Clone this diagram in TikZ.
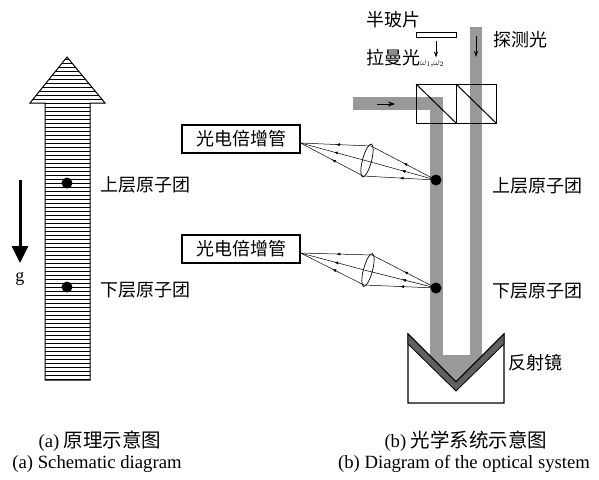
\documentclass[tikz,border=0pt]{standalone}
\usepackage{fontspec}
\setmainfont{Liberation Serif}
\newfontfamily\cjk{Noto Sans CJK SC}
\usetikzlibrary{arrows.meta,decorations.markings}
\tikzset{
  beam/.style={fill=black!40},
  lbl/.style={font=\cjk\fontsize{18}{20}\selectfont, inner sep=0pt},
  pmt/.style={draw, line width=1.1pt, minimum width=118pt, minimum height=28pt, font=\cjk\fontsize{18}{20}\selectfont},
  atom/.style={circle, fill=black, inner sep=0pt, minimum size=11pt},
  captext/.style={font=\fontsize{18.7}{21}\selectfont, inner sep=0pt},
  ray/.style={line width=0.5pt, postaction={decorate}, decoration={markings, mark=at position .5 with {\arrow{Latex[length=4pt,width=3pt]}}}}
}
\begin{document}
\begin{tikzpicture}[x=1pt,y=-1pt]
\useasboundingbox (0,0) rectangle (599,479);

%(a) striped arrow with the two clouds
\begin{scope}
  \clip (30,103) -- (67,57) -- (105,103) -- (90,103) -- (90,380) -- (45,380) -- (45,103) -- cycle;
  \foreach \y in {59,63,...,379} \draw[line width=0.7pt] (25,\y) -- (110,\y);
\end{scope}
\draw[line width=1pt] (45,103) -- (30,103) -- (67,57) -- (105,103) -- (90,103) -- (90,380) -- (45,380) -- cycle;
\node[atom] (upA) at (67,183) {};
\node[atom] (lowA) at (67,287) {};
\node[lbl, anchor=west] (upAl) at (100,185) {上层原子团};
\node[lbl, anchor=west] (lowAl) at (100,290) {下层原子团};
\coordinate (gtop) at (20,180);
\coordinate (gtip) at (20,263);
\draw[line width=3pt, -{Triangle[length=17pt,width=16pt]}] (gtop) -- (gtip);
\node[font=\fontsize{18}{20}\selectfont] (g) at (20,279) {g};

%(b) beams first, everything else on top
\fill[beam] (470,27) rectangle (482,395);
\fill[beam] (353,97) rectangle (443,110);
\fill[beam] (430,97) rectangle (443,395);
\fill[beam] (430,355) rectangle (482,395);

%mirror
\filldraw[fill=white, line width=1.1pt] (408,334) -- (456,382) -- (504,334) -- (504,403) -- (408,403) -- cycle;
\filldraw[fill=black!62, line width=0.8pt] (408,334) -- (456,382) -- (504,334) -- (504,344) -- (456,391) -- (408,344) -- cycle;
\node[lbl, anchor=west] (mirrorl) at (508,363) {反射镜};

%beam splitters
\draw[line width=1pt] (416,84) rectangle (496,123);
\draw[line width=1pt] (456,84) -- (456,123);
\draw[line width=1pt] (416,84) -- (456,123);
\draw[line width=1pt] (456,84) -- (496,123);
\draw[line width=1pt, -{Stealth[length=7pt,width=5pt]}] (377,104) -- (395,104);

%half wave plate and inputs
\node[draw, line width=1pt, minimum width=40pt, minimum height=5pt, inner sep=0pt] (plate) at (436,34.5) {};
\draw[line width=0.8pt, -{Stealth[length=6pt,width=4pt]}] ([yshift=-3pt]plate.south) -- ++(0,17);
\draw[line width=0.8pt, -{Stealth[length=6pt,width=4pt]}] (476,36) -- (476,57);
\node[lbl] (platel) at (393,20) {半玻片};
\node[lbl] (raman) at (393,58) {拉曼光};
\node[font=\fontsize{10}{11}\selectfont, anchor=west, inner sep=0pt] (omega) at (420,64) {$\omega_1$,$\omega_2$};
\node[lbl, anchor=west] (probe) at (493,40) {探测光};

%upper detection
\node[pmt] (pmtA) at (241,139) {光电倍增管};
\node[atom] (upB) at (436,180) {};
\draw[line width=0.7pt, rotate around={-15:(367,160.5)}] (367,160.5) ellipse [x radius=4.5, y radius=17];
\coordinate (lA1) at (371,146);
\coordinate (lA2) at (367,161);
\coordinate (lA3) at (363,176);
\draw[ray] (upB.center) -- (lA1);
\draw[ray] (upB.center) -- (lA2);
\draw[ray] (upB.center) -- (lA3);
\draw[ray] (lA1) -- ([yshift=-4pt]pmtA.east);
\draw[ray] (lA2) -- ([yshift=-4pt]pmtA.east);
\draw[ray] (lA3) -- ([yshift=-4pt]pmtA.east);
\node[lbl, anchor=west] (upBl) at (492,186) {上层原子团};

%lower detection
\node[pmt] (pmtB) at (241,249) {光电倍增管};
\node[atom] (lowB) at (436,288) {};
\draw[line width=0.7pt, rotate around={-15:(368,270)}] (368,270) ellipse [x radius=4.5, y radius=17];
\coordinate (lB1) at (372,255);
\coordinate (lB2) at (368,271);
\coordinate (lB3) at (364,285);
\draw[ray] (lowB.center) -- (lB1);
\draw[ray] (lowB.center) -- (lB2);
\draw[ray] (lowB.center) -- (lB3);
\draw[ray] (lB1) -- ([yshift=-4pt]pmtB.east);
\draw[ray] (lB2) -- ([yshift=-4pt]pmtB.east);
\draw[ray] (lB3) -- ([yshift=-4pt]pmtB.east);
\node[lbl, anchor=west] (lowBl) at (492,291) {下层原子团};

%captions
\node[captext] (capA1) at (100,441) {(a) {\cjk\fontsize{19.5}{21}\selectfont 原理示意图}};
\node[captext] (capA2) at (97,464) {(a) Schematic diagram};
\node[captext] (capB1) at (466,441) {(b) {\cjk\fontsize{19.5}{21}\selectfont 光学系统示意图}};
\node[captext] (capB2) at (464,464) {(b) Diagram of the optical system};
\end{tikzpicture}
\end{document}
